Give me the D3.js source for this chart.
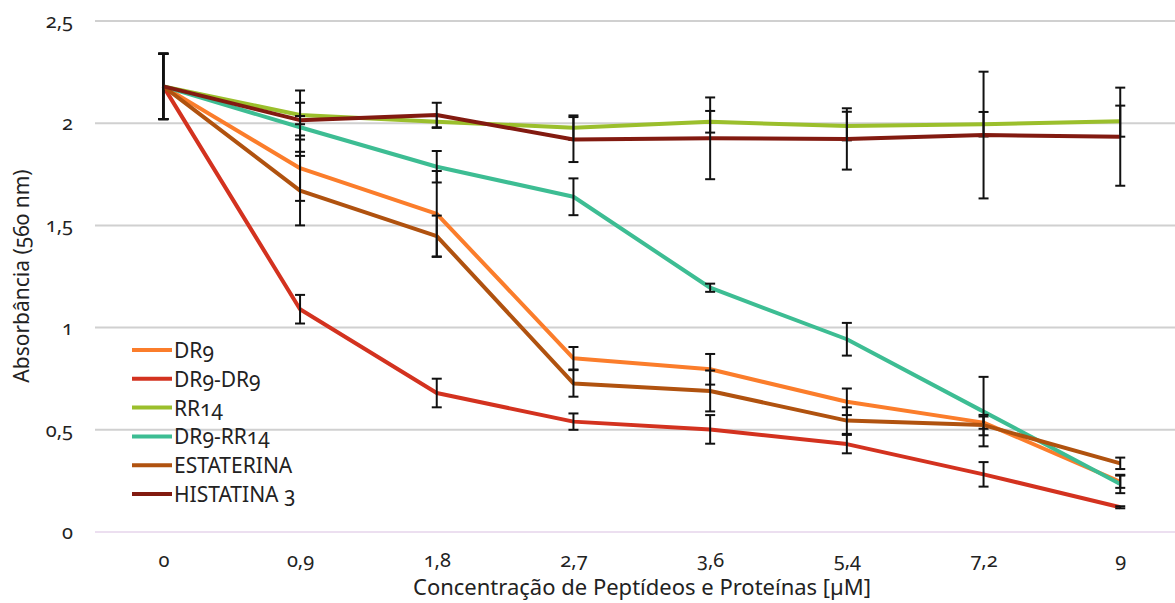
<!DOCTYPE html>
<html>
<head>
<meta charset="utf-8">
<script src="https://cdn.jsdelivr.net/npm/d3@7"></script>
<style>
  body { margin: 0; background: #fff; }
  text { font-family: "Noto Sans", Lato, sans-serif; font-variant-numeric: oldstyle-nums; fill: #222; }
</style>
</head>
<body>
<div id="chart"></div>
<script>
var categories = ["0", "0,9", "1,8", "2,7", "3,6", "5,4", "7,2", "9"];
var yTicks = [0, 0.5, 1, 1.5, 2, 2.5];
var seriesNames = ["DR9", "DR9-DR9", "RR14", "DR9-RR14", "ESTATERINA", "HISTATINA 3"];
var seriesColors = ["#fb7d2b", "#d3321f", "#9bbf2c", "#3dbd93", "#b0520f", "#821a10"];

var dr9       = [2.18, 1.78, 1.556, 0.85, 0.796, 0.637, 0.535, 0.246];
var dr9Dr9    = [2.18, 1.09, 0.68, 0.54, 0.502, 0.43, 0.282, 0.121];
var rr14      = [2.18, 2.04, 2.007, 1.978, 2.007, 1.986, 1.995, 2.01];
var dr9Rr14   = [2.18, 1.98, 1.787, 1.64, 1.195, 0.943, 0.589, 0.235];
var estaterina= [2.18, 1.67, 1.448, 0.727, 0.69, 0.545, 0.523, 0.336];
var histatina = [2.18, 2.015, 2.04, 1.92, 1.926, 1.923, 1.942, 1.934];

var dr9Err       = [0.16, 0.16, 0.21, 0.055, 0.075, 0.065, 0.03, 0.03];
var dr9Dr9Err    = [0.16, 0.07, 0.07, 0.04, 0.07, 0.045, 0.06, 0.005];
var rr14Err      = [0.16, 0.12, 0.03, 0.06, 0.053, 0.07, 0.06, 0.076];
var dr9Rr14Err   = [0.16, 0.12, 0.077, 0.09, 0.02, 0.08, 0.17, 0.045];
var estaterinaErr= [0.16, 0.17, 0.1, 0.065, 0.1, 0.065, 0.05, 0.028];
var histatinaErr = [0.16, 0.02, 0.06, 0.11, 0.2, 0.15, 0.31, 0.24];

var values = [dr9, dr9Dr9, rr14, dr9Rr14, estaterina, histatina];
var errors = [dr9Err, dr9Dr9Err, rr14Err, dr9Rr14Err, estaterinaErr, histatinaErr];

var width = 1175, height = 603;
var plotLeft = 95, plotTop = 21, plotBottom = 532, step = 136.7;

var svg = d3.select("#chart").append("svg")
  .attr("width", width)
  .attr("height", height);

var x = d3.scalePoint()
  .domain(categories)
  .range([plotLeft, plotLeft + step * categories.length])
  .padding(0.5);

var y = d3.scaleLinear()
  .domain([0, 2.5])
  .range([plotBottom, plotTop]);

// gridlines
svg.append("g").selectAll("line")
  .data(yTicks)
  .enter().append("line")
  .attr("x1", plotLeft)
  .attr("x2", width)
  .attr("y1", function(d) { return y(d); })
  .attr("y2", function(d) { return y(d); })
  .attr("stroke", function(d) { return d === 0 ? "#ecdff0" : "#d0d0d0"; })
  .attr("stroke-width", 2);

// y axis labels
var yAxis = d3.axisLeft(y)
  .tickValues(yTicks)
  .tickSize(0)
  .tickPadding(0)
  .tickFormat(function(d) { return String(d).replace(".", ","); });
var gy = svg.append("g")
  .attr("transform", "translate(73,0)")
  .call(yAxis);
gy.select(".domain").remove();
gy.selectAll("text").attr("font-size", 20).attr("font-family", null).attr("fill", "#222");

// x axis labels
var xAxis = d3.axisBottom(x).tickSize(0).tickPadding(0);
var gx = svg.append("g")
  .attr("transform", "translate(0,553)")
  .call(xAxis);
gx.select(".domain").remove();
gx.selectAll("text").attr("font-size", 20).attr("font-family", null).attr("fill", "#222");

// axis titles
svg.append("text")
  .attr("x", 642)
  .attr("y", 595)
  .attr("text-anchor", "middle")
  .attr("font-size", 22)
  .text("Concentração de Peptídeos e Proteínas [µM]");

svg.append("text")
  .attr("transform", "translate(29,276) rotate(-90)")
  .attr("text-anchor", "middle")
  .attr("font-size", 21)
  .text("Absorbância (560 nm)");

var line = d3.line()
  .x(function(d, i) { return x(categories[i]); })
  .y(function(d) { return y(d); });

seriesNames.forEach(function(name, s) {
  var g = svg.append("g");
  g.append("path")
    .datum(values[s])
    .attr("d", line)
    .attr("fill", "none")
    .attr("stroke", seriesColors[s])
    .attr("stroke-width", 4)
    .attr("stroke-linejoin", "round");

  var bars = g.selectAll(".err")
    .data(values[s])
    .enter().append("g");
  bars.append("line")
    .attr("x1", function(d, i) { return x(categories[i]); })
    .attr("x2", function(d, i) { return x(categories[i]); })
    .attr("y1", function(d, i) { return y(d + errors[s][i]); })
    .attr("y2", function(d, i) { return y(d - errors[s][i]); })
    .attr("stroke", "#111")
    .attr("stroke-width", 2);
  [1, -1].forEach(function(sign) {
    bars.append("line")
      .attr("x1", function(d, i) { return x(categories[i]) - 5; })
      .attr("x2", function(d, i) { return x(categories[i]) + 5; })
      .attr("y1", function(d, i) { return y(d + sign * errors[s][i]); })
      .attr("y2", function(d, i) { return y(d + sign * errors[s][i]); })
      .attr("stroke", "#111")
      .attr("stroke-width", 2);
  });
});

// legend
var legend = svg.append("g").attr("transform", "translate(132,350)");
var rows = legend.selectAll("g")
  .data(seriesNames)
  .enter().append("g")
  .attr("transform", function(d, i) { return "translate(0," + (i * 28.8) + ")"; });
rows.append("line")
  .attr("x1", 0).attr("x2", 40)
  .attr("stroke", function(d, i) { return seriesColors[i]; })
  .attr("stroke-width", 4);
rows.append("text")
  .attr("x", 42)
  .attr("y", 8)
  .attr("font-size", 21)
  .text(function(d) { return d; });
</script>
</body>
</html>
